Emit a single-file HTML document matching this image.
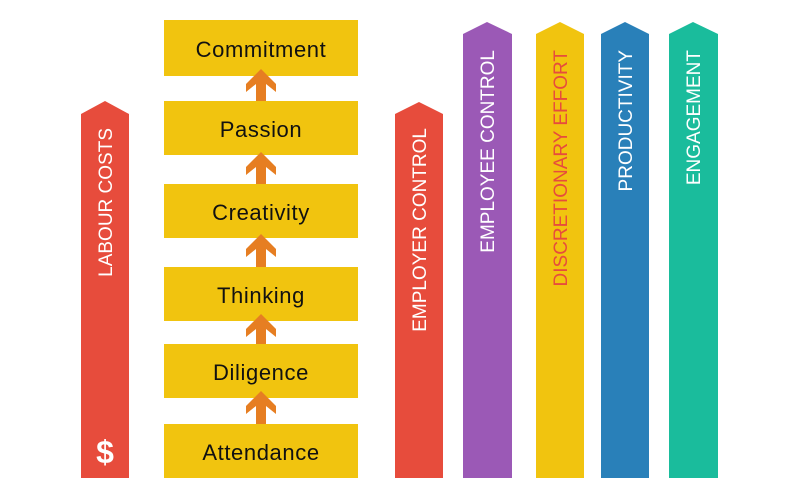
<!DOCTYPE html>
<html><head><meta charset="utf-8"><style>
body{margin:0;background:#fff;}
svg{display:block;font-family:"Liberation Sans",sans-serif;}
</style></head><body>
<svg width="798" height="500" viewBox="0 0 798 500" xmlns="http://www.w3.org/2000/svg">
<polygon points="81,114 105,101 129,114 129,478 81,478" fill="#e74c3c"/>
<text transform="translate(112,128) rotate(-90)" text-anchor="end" font-size="19" fill="#fff">LABOUR COSTS</text>
<text x="105" y="463" text-anchor="middle" font-size="32" font-weight="bold" fill="#fff">$</text>
<g fill="#f1c40f">
<rect x="164" y="20" width="194" height="56"/>
<rect x="164" y="101" width="194" height="54"/>
<rect x="164" y="184" width="194" height="54"/>
<rect x="164" y="267" width="194" height="54"/>
<rect x="164" y="344" width="194" height="54"/>
<rect x="164" y="424" width="194" height="54"/>
</g>
<g fill="#e67e22">
<polygon points="261,69 276,84 276,92 266,84 266,101 256,101 256,84 246,92 246,84"/>
<polygon points="261,152 276,167 276,175 266,167 266,184 256,184 256,167 246,175 246,167"/>
<polygon points="261,234 276,249 276,257 266,249 266,267 256,267 256,249 246,257 246,249"/>
<polygon points="261,314 276,329 276,337 266,329 266,344 256,344 256,329 246,337 246,329"/>
<polygon points="261,391 276,406 276,414 266,406 266,424 256,424 256,406 246,414 246,406"/>
</g>
<g font-size="22" fill="#111" text-anchor="middle" letter-spacing="0.6">
<text x="261" y="57">Commitment</text>
<text x="261" y="137">Passion</text>
<text x="261" y="220">Creativity</text>
<text x="261" y="303">Thinking</text>
<text x="261" y="380">Diligence</text>
<text x="261" y="460">Attendance</text>
</g>
<polygon points="395,114 419,102 443,114 443,478 395,478" fill="#e74c3c"/>
<polygon points="463,34 487,22 512,34 512,478 463,478" fill="#9b59b6"/>
<polygon points="536,34 560,22 584,34 584,478 536,478" fill="#f1c40f"/>
<polygon points="601,34 625,22 649,34 649,478 601,478" fill="#2980b9"/>
<polygon points="669,34 693,22 718,34 718,478 669,478" fill="#1abc9c"/>
<g font-size="19" text-anchor="end">
<text transform="translate(426,128) rotate(-90)" fill="#fff">EMPLOYER CONTROL</text>
<text transform="translate(494,50) rotate(-90)" fill="#fff">EMPLOYEE CONTROL</text>
<text transform="translate(567,50) rotate(-90)" fill="#e74c3c">DISCRETIONARY EFFORT</text>
<text transform="translate(632,50) rotate(-90)" fill="#fff">PRODUCTIVITY</text>
<text transform="translate(700,50) rotate(-90)" fill="#fff">ENGAGEMENT</text>
</g>
</svg>
</body></html>
